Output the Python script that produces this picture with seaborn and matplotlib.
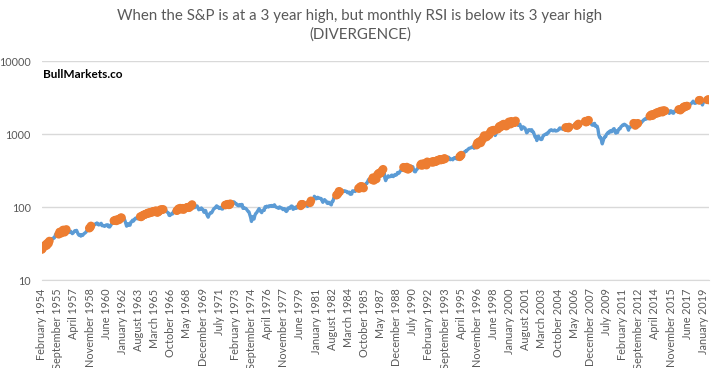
import matplotlib
matplotlib.use("Agg")
import matplotlib.pyplot as plt
import matplotlib.ticker as mticker
import seaborn as sns
import pandas as pd

TITLE = "When the S&P is at a 3 year high, but monthly RSI is below its 3 year high\n(DIVERGENCE)"
WATERMARK = "BullMarkets.co"

# month-end S&P 500 closes, Feb 1954 - Aug 2019 (one row per year)
sp500_close = [
    26.15, 26.94, 28.26, 29.19, 29.21, 30.88, 29.83, 32.31, 31.68, 34.24, 35.98,
    36.63, 36.76, 36.58, 37.96, 37.91, 41.03, 43.52, 43.18, 43.67, 42.34, 45.51, 45.48,
    43.82, 45.34, 48.48, 48.38, 45.20, 46.97, 49.39, 47.51, 45.35, 45.58, 45.08, 46.67,
    44.72, 43.26, 44.11, 45.74, 47.43, 47.37, 47.91, 45.22, 42.42, 41.06, 41.72, 39.99,
    41.70, 40.84, 42.10, 43.44, 44.09, 45.24, 47.19, 47.75, 50.06, 51.33, 52.48, 55.21,
    55.42, 55.41, 55.44, 57.59, 58.68, 58.47, 60.51, 59.60, 56.88, 57.52, 58.28, 59.89,
    55.61, 56.12, 55.34, 54.37, 55.83, 56.92, 55.51, 56.96, 53.52, 53.39, 55.54, 58.11,
    61.78, 63.44, 65.06, 65.31, 66.56, 64.64, 66.76, 68.07, 66.73, 68.62, 71.32, 71.55,
    68.84, 69.96, 69.55, 65.24, 59.63, 54.75, 58.23, 59.12, 56.27, 56.52, 62.26, 63.10,
    66.20, 64.29, 66.57, 69.80, 70.80, 69.37, 69.13, 72.50, 71.70, 74.01, 73.23, 75.02,
    77.04, 77.80, 78.98, 79.46, 80.37, 81.69, 83.18, 81.83, 84.18, 84.86, 84.42, 84.75,
    87.56, 87.43, 86.16, 89.11, 88.42, 84.12, 85.25, 87.17, 89.96, 92.42, 91.61, 92.43,
    92.88, 91.22, 89.23, 91.06, 86.13, 84.74, 83.60, 77.10, 76.56, 80.20, 80.45, 80.33,
    86.61, 86.78, 90.20, 94.01, 89.08, 90.64, 94.75, 93.64, 96.71, 93.90, 94.00, 96.47,
    92.24, 89.36, 90.20, 97.59, 98.68, 99.58, 97.74, 98.86, 102.67, 103.41, 108.37, 103.86,
    103.01, 98.13, 101.51, 103.69, 103.46, 97.71, 91.83, 95.51, 93.12, 97.24, 93.81, 92.06,
    85.02, 89.50, 89.63, 81.52, 76.55, 72.72, 78.05, 81.52, 84.21, 83.25, 87.20, 92.15,
    95.88, 96.75, 100.31, 103.95, 99.63, 99.70, 95.58, 99.03, 98.34, 94.23, 93.99, 102.09,
    103.94, 106.57, 107.20, 107.67, 109.53, 107.14, 107.39, 111.09, 110.55, 111.58, 116.67, 118.05,
    116.03, 111.68, 111.52, 106.97, 104.95, 104.26, 108.22, 104.25, 108.43, 108.29, 95.96, 97.55,
    96.57, 96.22, 93.98, 90.31, 87.28, 86.00, 79.31, 72.15, 63.54, 73.90, 69.97, 68.56,
    76.98, 81.59, 83.36, 87.30, 91.15, 95.19, 88.75, 86.88, 83.87, 89.04, 91.24, 90.19,
    100.86, 99.71, 102.77, 101.64, 100.18, 104.28, 103.44, 102.91, 105.24, 102.90, 102.10, 107.46,
    102.03, 99.82, 98.42, 98.44, 96.12, 100.48, 98.85, 96.77, 96.53, 92.34, 94.83, 95.10,
    89.25, 87.04, 89.21, 96.83, 97.24, 95.53, 100.68, 103.29, 102.54, 93.15, 94.70, 96.11,
    99.93, 96.28, 101.59, 101.76, 99.08, 102.91, 103.81, 109.32, 109.32, 101.82, 106.16, 107.94,
    114.16, 113.66, 102.09, 106.29, 111.24, 114.24, 121.67, 122.38, 125.46, 127.47, 140.52, 135.76,
    129.55, 131.27, 136.00, 132.81, 132.59, 131.21, 130.92, 122.79, 116.18, 121.89, 126.35, 122.55,
    120.40, 113.11, 111.96, 116.44, 111.88, 109.61, 107.09, 119.51, 120.42, 133.71, 138.54, 140.64,
    145.30, 148.06, 152.96, 164.42, 162.39, 168.11, 162.56, 164.40, 166.07, 163.55, 166.40, 164.93,
    163.41, 157.06, 159.18, 160.05, 150.55, 153.18, 150.66, 166.68, 166.10, 166.09, 163.58, 167.24,
    179.63, 181.18, 180.66, 179.83, 189.55, 191.85, 190.92, 188.63, 182.08, 189.82, 202.17, 211.28,
    211.78, 226.92, 238.90, 235.52, 247.35, 250.84, 236.12, 252.93, 231.32, 243.98, 249.22, 242.17,
    274.08, 284.20, 291.70, 288.36, 290.10, 304.00, 318.66, 329.80, 321.83, 251.79, 230.30, 247.08,
    257.07, 267.82, 258.89, 261.33, 262.16, 273.50, 272.02, 261.52, 271.91, 278.97, 273.70, 277.72,
    297.47, 288.86, 294.87, 309.64, 320.52, 317.98, 346.08, 351.45, 349.15, 340.36, 345.99, 353.40,
    329.08, 331.89, 339.94, 330.80, 361.23, 358.02, 356.15, 322.56, 306.05, 304.00, 322.22, 330.22,
    343.93, 367.07, 375.22, 375.35, 389.83, 371.16, 387.81, 395.43, 387.86, 392.46, 375.22, 417.09,
    408.79, 412.70, 403.69, 414.95, 415.35, 408.14, 424.21, 414.03, 417.80, 418.68, 431.35, 435.71,
    438.78, 443.38, 451.67, 440.19, 450.19, 450.53, 448.13, 463.56, 458.93, 467.83, 461.79, 466.45,
    481.61, 467.14, 445.77, 450.91, 456.50, 444.27, 458.26, 475.49, 462.69, 472.35, 453.69, 459.27,
    470.42, 487.39, 500.71, 514.71, 533.40, 544.75, 562.06, 561.88, 584.41, 581.50, 605.37, 615.93,
    636.02, 640.43, 645.50, 654.17, 669.12, 670.63, 639.95, 651.99, 687.31, 705.27, 757.02, 740.74,
    786.16, 790.82, 757.12, 801.34, 848.28, 885.14, 954.29, 899.47, 947.28, 914.62, 955.40, 970.43,
    980.28, 1049.34, 1101.75, 1111.75, 1090.82, 1133.84, 1120.67, 957.28, 1017.01, 1098.67, 1163.63, 1229.23,
    1279.64, 1238.33, 1286.37, 1335.18, 1301.84, 1372.71, 1328.72, 1320.41, 1282.71, 1362.93, 1388.91, 1469.25,
    1394.46, 1366.42, 1498.58, 1452.43, 1420.60, 1454.60, 1430.83, 1517.68, 1436.51, 1429.40, 1314.95, 1320.28,
    1366.01, 1239.94, 1160.33, 1249.46, 1255.82, 1224.42, 1211.23, 1133.58, 1040.94, 1059.78, 1139.45, 1148.08,
    1130.20, 1106.73, 1147.39, 1076.92, 1067.14, 989.82, 911.62, 916.07, 815.28, 885.76, 936.31, 879.82,
    855.70, 841.15, 848.18, 916.92, 963.59, 974.50, 990.31, 1008.01, 995.97, 1050.71, 1058.20, 1111.92,
    1131.13, 1144.94, 1126.21, 1107.30, 1120.68, 1140.84, 1101.72, 1104.24, 1114.58, 1130.20, 1173.82, 1211.92,
    1181.27, 1203.60, 1180.59, 1156.85, 1191.50, 1191.33, 1234.18, 1220.33, 1228.81, 1207.01, 1249.48, 1248.29,
    1280.08, 1280.66, 1294.83, 1310.61, 1270.09, 1270.20, 1276.66, 1303.82, 1335.85, 1377.94, 1400.63, 1418.30,
    1438.24, 1406.82, 1420.86, 1482.37, 1530.62, 1503.35, 1455.27, 1473.99, 1526.75, 1549.38, 1481.14, 1468.36,
    1378.55, 1330.63, 1322.70, 1385.59, 1400.38, 1280.00, 1267.38, 1282.83, 1166.36, 968.75, 896.24, 903.25,
    825.88, 735.09, 797.87, 872.81, 919.14, 919.32, 987.48, 1020.62, 1057.08, 1036.19, 1095.63, 1115.10,
    1073.87, 1104.49, 1169.43, 1186.69, 1089.41, 1030.71, 1101.60, 1049.33, 1141.20, 1183.26, 1180.55, 1257.64,
    1286.12, 1327.22, 1325.83, 1363.61, 1345.20, 1320.64, 1292.28, 1218.89, 1131.42, 1253.30, 1246.96, 1257.60,
    1312.41, 1365.68, 1408.47, 1397.91, 1310.33, 1362.16, 1379.32, 1406.58, 1440.67, 1412.16, 1416.18, 1426.19,
    1498.11, 1514.68, 1569.19, 1597.57, 1630.74, 1606.28, 1685.73, 1632.97, 1681.55, 1756.54, 1805.81, 1848.36,
    1782.59, 1859.45, 1872.34, 1883.95, 1923.57, 1960.23, 1930.67, 2003.37, 1972.29, 2018.05, 2067.56, 2058.90,
    1994.99, 2104.50, 2067.89, 2085.51, 2107.39, 2063.11, 2103.84, 1972.18, 1920.03, 2079.36, 2080.41, 2043.94,
    1940.24, 1932.23, 2059.74, 2065.30, 2096.95, 2098.86, 2173.60, 2170.95, 2168.27, 2126.15, 2198.81, 2238.83,
    2278.87, 2363.64, 2362.72, 2384.20, 2411.80, 2423.41, 2470.30, 2471.65, 2519.36, 2575.26, 2647.58, 2673.61,
    2823.81, 2713.83, 2640.87, 2648.05, 2705.27, 2718.37, 2816.29, 2901.52, 2913.98, 2711.74, 2760.17, 2506.85,
    2704.10, 2784.49, 2834.40, 2945.83, 2752.06, 2941.76, 2980.38, 2926.46,
]

# months flagged as divergence (first month, last month)
divergence_spans = [
    ("1954-02", "1954-11"), ("1955-10", "1956-07"), ("1958-10", "1958-12"),
    ("1961-03", "1961-12"), ("1963-10", "1966-01"), ("1967-05", "1968-01"),
    ("1968-04", "1968-11"), ("1972-02", "1972-08"), ("1979-07", "1979-09"),
    ("1980-06", "1980-07"), ("1983-01", "1983-05"), ("1985-03", "1985-09"),
    ("1986-07", "1987-08"), ("1989-08", "1990-03"), ("1991-04", "1992-01"),
    ("1992-05", "1993-09"), ("1995-02", "1995-04"), ("1996-10", "1998-07"),
    ("1998-11", "2000-08"), ("2005-07", "2005-11"), ("2006-08", "2006-10"),
    ("2007-06", "2007-10"), ("2012-03", "2012-08"), ("2013-10", "2015-04"),
    ("2016-08", "2017-06"), ("2018-08", "2018-09"), ("2019-06", "2019-08"),
]

y_ticks = [10, 100, 1000, 10000]
tick_every = 19  # months between x labels

dates = pd.date_range("1954-02-01", periods=len(sp500_close), freq="MS")
df = pd.DataFrame({"date": dates, "close": sp500_close})
df["divergence"] = False
for start, end in divergence_spans:
    df.loc[(df["date"] >= start) & (df["date"] <= end), "divergence"] = True

sns.set_style("white")
plt.rcParams["font.family"] = ["Lato", "DejaVu Sans"]

fig, ax = plt.subplots(figsize=(7.2, 3.68), dpi=100)
fig.subplots_adjust(left=0.058, right=0.985, top=0.834, bottom=0.239)

sns.lineplot(data=df, x="date", y="close", color="#5B9BD5", linewidth=2.4, ax=ax)
sns.scatterplot(data=df[df["divergence"]], x="date", y="close", color="#ED7D31",
                s=38, edgecolor="none", ax=ax, zorder=3)

ax.set_yscale("log")
ax.set_ylim(10, 10000)
ax.yaxis.set_major_locator(mticker.FixedLocator(y_ticks))
ax.yaxis.set_major_formatter(mticker.FuncFormatter(lambda v, p: f"{int(v)}"))
ax.yaxis.set_minor_locator(mticker.NullLocator())
ax.grid(axis="y", color="#D9D9D9", linewidth=1)

ticks = dates[::tick_every]
ax.set_xticks(ticks)
ax.set_xticklabels([d.strftime("%B %Y") for d in ticks], rotation=90)
ax.set_xlim(dates[0], dates[-1])

ax.tick_params(axis="x", colors="#595959", labelsize=7.8, length=4, color="#D9D9D9", pad=2)
ax.tick_params(axis="y", colors="#595959", labelsize=7.8, length=0, pad=8)
ax.set_xlabel("")
ax.set_ylabel("")
for side in ["left", "right", "top"]:
    ax.spines[side].set_visible(False)
ax.spines["bottom"].set_color("#D9D9D9")

fig.suptitle(TITLE, x=0.5, y=0.975, fontsize=10.8, color="#595959", linespacing=1.4)
fig.text(43 / 720, 1 - 74 / 368, WATERMARK, fontsize=8.5, fontweight="bold",
         color="black", va="center", ha="left")

fig.savefig("out.png", dpi=100)
